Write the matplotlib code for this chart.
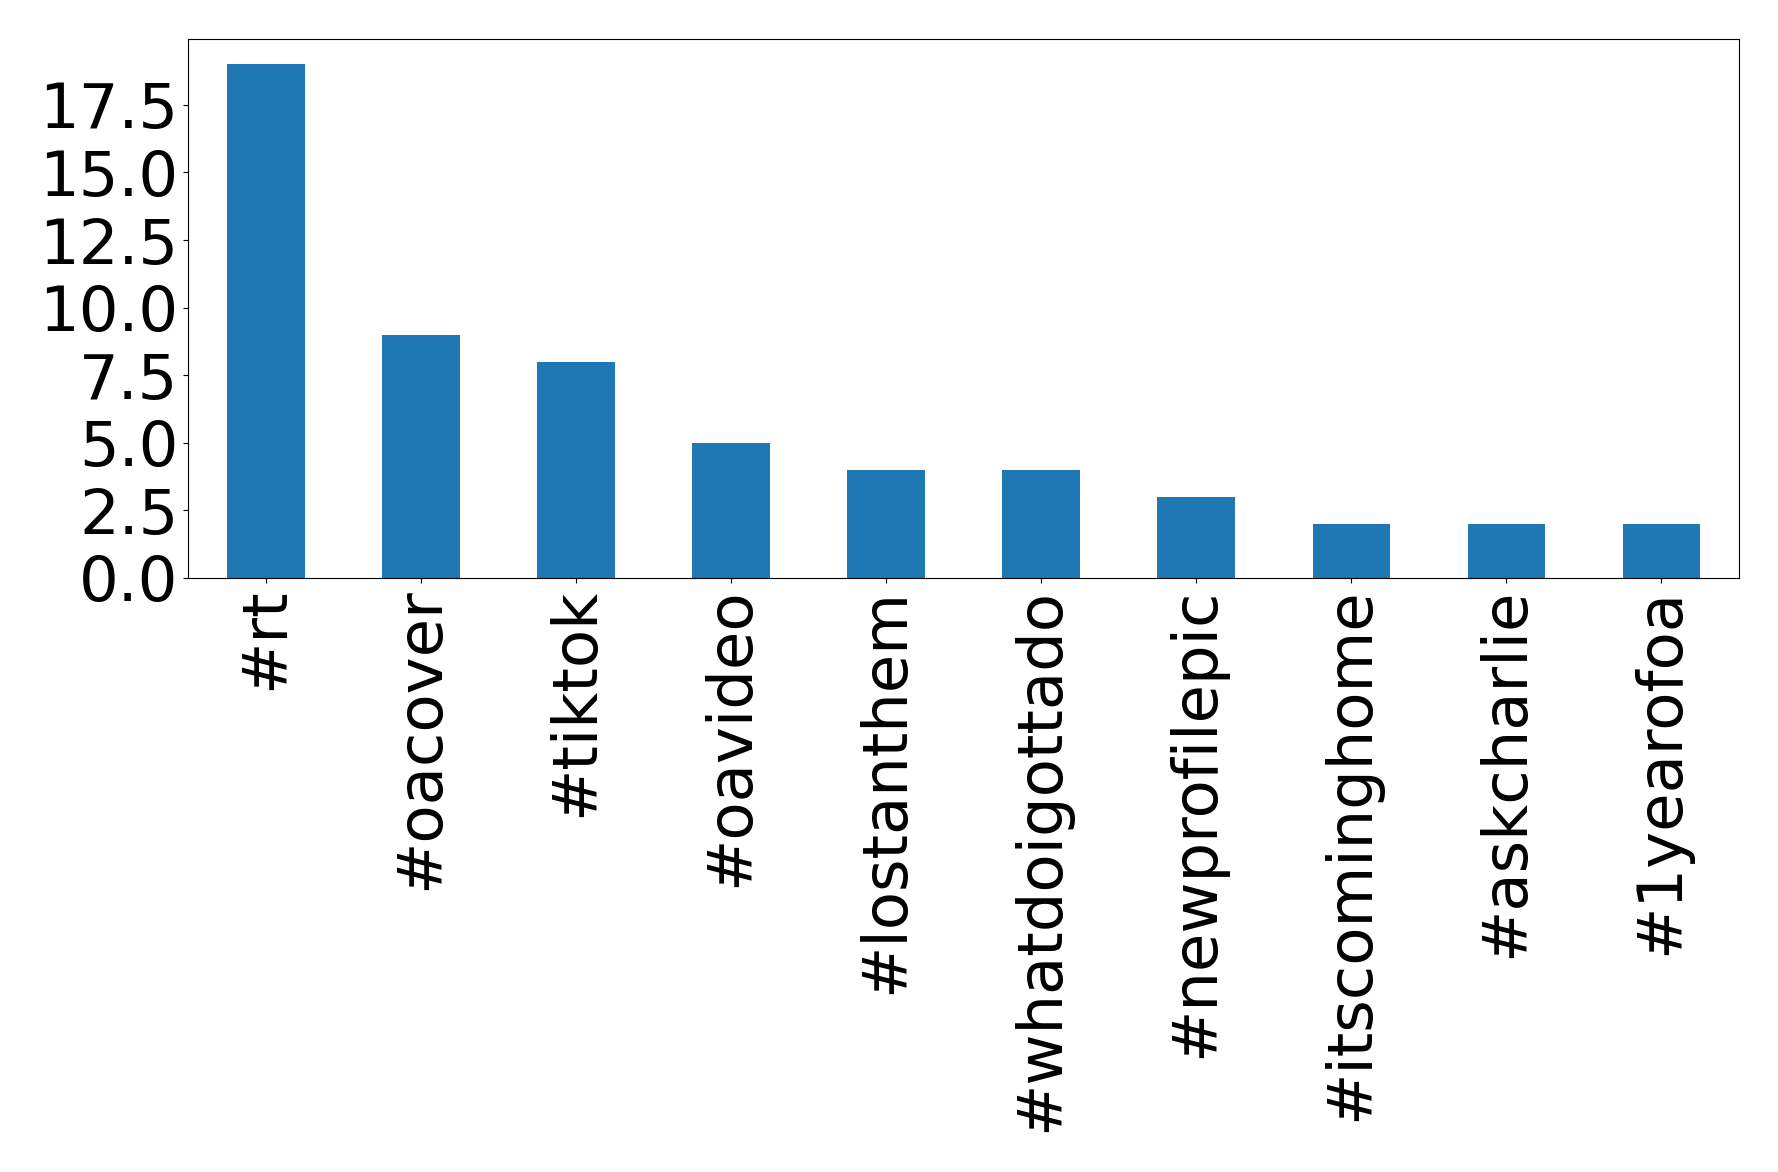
import matplotlib
matplotlib.use("Agg")
import matplotlib.pyplot as plt
import numpy as np

hashtags = ["#rt", "#oacover", "#tiktok", "#oavideo", "#lostanthem",
            "#whatdoigottado", "#newprofilepic", "#itscominghome",
            "#askcharlie", "#1yearofoa"]
counts = [19, 9, 8, 5, 4, 4, 3, 2, 2, 2]
yticks = np.arange(0, 18, 2.5)

fig = plt.figure(figsize=(17.78, 11.72), dpi=100)
ax = fig.add_axes([0.106, 0.507, 0.872, 0.460])

x = list(range(len(hashtags)))
ax.bar(x, counts, width=0.5, color="#1f77b4")
ax.set_xlim(-0.5, len(hashtags) - 0.5)
ax.set_xticks(x)
ax.set_xticklabels(hashtags, rotation=90, fontsize=45)
ax.set_yticks(yticks)
ax.set_yticklabels([f"{v:.1f}" for v in yticks], fontsize=45)

fig.savefig("out.png", dpi=100)
